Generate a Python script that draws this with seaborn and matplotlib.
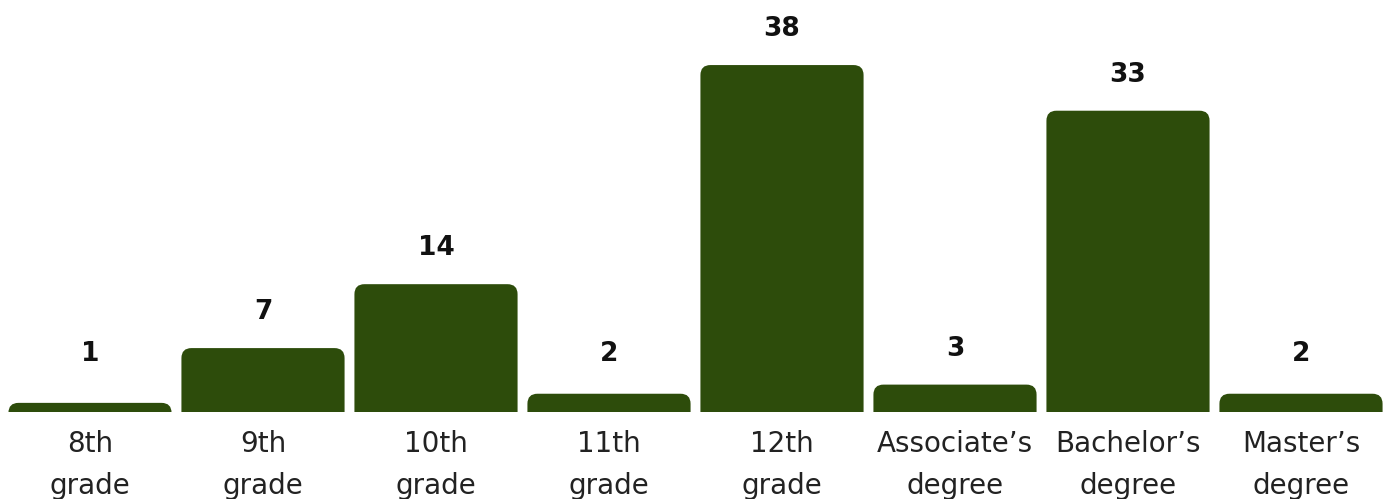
import matplotlib
matplotlib.use("Agg")
import matplotlib.pyplot as plt
import seaborn as sns
import pandas as pd
from matplotlib.patches import FancyBboxPatch

categories = ["8th\ngrade", "9th\ngrade", "10th\ngrade", "11th\ngrade", "12th\ngrade",
              "Associate\u2019s\ndegree", "Bachelor\u2019s\ndegree", "Master\u2019s\ndegree"]
values = [1, 7, 14, 2, 38, 3, 33, 2]

bar_color = "#2d4c0b"

sns.set_theme(style="white")
plt.rcParams['font.family'] = ['DejaVu Sans']

fig = plt.figure(figsize=(13.9, 4.99), dpi=100)
ax = fig.add_axes([3.5 / 1390, (499 - 412) / 499, 1384 / 1390, 412 / 499])

df = pd.DataFrame({"cat": categories, "val": values})
sns.barplot(data=df, x="cat", y="val", color=bar_color, width=0.943, ax=ax,
            saturation=1, order=categories)

ax.set_xlim(-0.5, 7.5)
ax.set_ylim(0, 412 / 9.13)

# replace bars with rounded-top versions
px_per_x = 173.0
px_per_y = 9.13
r_px = 10
r_x = r_px / px_per_x
r_y = r_px / px_per_y
aspect = r_y / r_x
label_min = 6.4
for p in list(ax.patches):
    x0 = p.get_x()
    w = p.get_width()
    h = p.get_height()
    p.set_visible(False)
    fb = FancyBboxPatch((x0, -3), w, h + 3,
                        boxstyle=f"round,pad=0,rounding_size={r_x}",
                        mutation_aspect=aspect,
                        facecolor=bar_color, edgecolor="none", clip_on=True)
    ax.add_patch(fb)
    ly = max(h + 3.95, label_min)
    ax.text(x0 + w / 2, ly, f"{int(round(h))}", ha="center", va="center",
            fontsize=19, fontweight="bold", color="#111111", clip_on=False)

for s in ax.spines.values():
    s.set_visible(False)
ax.set_yticks([])
ax.set_xlabel("")
ax.set_ylabel("")
ax.tick_params(axis="x", length=0, pad=13)
ax.set_xticks(range(len(categories)))
ax.set_xticklabels(categories, fontsize=20, color="#222222", linespacing=1.62)

fig.savefig("out.png", dpi=100, facecolor="white")
